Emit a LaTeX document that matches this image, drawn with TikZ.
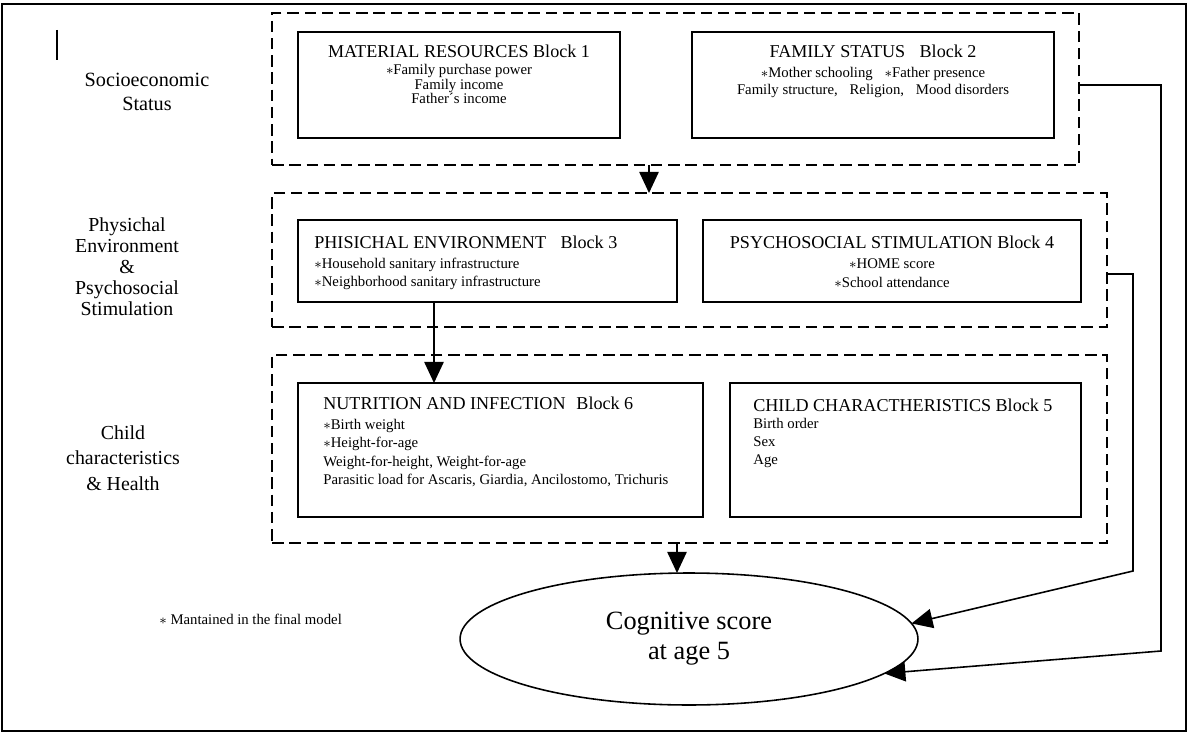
\documentclass[tikz,border=0pt]{standalone}
\usepackage{fontspec}
\setmainfont{Liberation Serif}
\usetikzlibrary{arrows.meta,shapes.geometric}
\newcommand{\mk}{$\ast$}
\begin{document}
\begin{tikzpicture}[x=0.02cm,y=-0.02cm,>={Triangle[length=12pt,width=11pt]},
  grp/.style={draw,dash pattern=on 6.5pt off 3.3pt,line width=1.1pt,inner sep=0,outer sep=0},
  blk/.style={draw,line width=1.2pt,inner sep=0,outer sep=0},
  ttl/.style={font=\fontsize{10.3}{12}\selectfont,inner sep=0},
  itm/.style={font=\fontsize{8.4}{#1}\selectfont,inner sep=0},
  lbl/.style={align=center,inner sep=0},
  con/.style={->,line width=0.9pt}]
  \useasboundingbox (0,0) rectangle (1189,733);
  \draw[line width=1.1pt] (2,4) rectangle (1186,731);
  \draw[line width=0.6pt] (57,30) -- (57,60);
  % left labels
  \node[lbl,font=\fontsize{11.5}{13.7}\selectfont] (soc) at (147,92) {Socioeconomic\\Status};
  \node[lbl,font=\fontsize{11.3}{12}\selectfont] (env) at (127,267) {Physichal\\Environment\\\&\\Psychosocial\\Stimulation};
  \node[lbl,font=\fontsize{11.3}{14.5}\selectfont] (chd) at (123,458) {Child\\characteristics\\\& Health};
  % groups and blocks
  \node[grp,minimum width=16.14cm,minimum height=3.04cm] (grp1) at (675.5,89) {};
  \node[blk,minimum width=6.44cm,minimum height=2.12cm] (b1) at (459,85) {};
  \node[blk,minimum width=7.24cm,minimum height=2.12cm] (b2) at (873,85) {};
  \node[grp,minimum width=16.7cm,minimum height=2.68cm] (grp2) at (689.5,260) {};
  \node[blk,minimum width=7.58cm,minimum height=1.64cm] (b3) at (487.5,261) {};
  \node[blk,minimum width=7.56cm,minimum height=1.64cm] (b4) at (892,261) {};
  \node[grp,minimum width=16.7cm,minimum height=3.76cm] (grp3) at (689.5,449) {};
  \node[blk,minimum width=8.1cm,minimum height=2.68cm] (b6) at (500.5,450) {};
  \node[blk,minimum width=7.02cm,minimum height=2.68cm] (b5) at (905.5,450) {};
  \node[draw,ellipse,line width=0.9pt,inner sep=0,outer sep=0,minimum width=9.16cm,minimum height=2.64cm,
    align=center,font=\fontsize{15}{17}\selectfont] (cog) at (689,639) {Cognitive score\\at age 5};
  % block texts
  \node[ttl] (t1) at (459,51) {MATERIAL RESOURCES Block 1};
  \node[itm=8.5,align=center] (i1) at (459,84) {\mk Family purchase power\\Family income\\Father´s income};
  \node[ttl] (t2) at (873,51) {FAMILY STATUS\hspace{0.8em}Block 2};
  \node[itm=9.7,align=center] (i2) at (873,82) {\mk Mother schooling\hspace{0.8em}\mk Father presence\\Family structure,\hspace{0.8em}Religion,\hspace{0.8em}Mood disorders};
  \node[ttl,anchor=west] (t3) at (314,242) {PHISICHAL ENVIRONMENT\hspace{0.8em}Block 3};
  \node[itm=10.2,align=left,anchor=west] (i3) at (314,274) {\mk Household sanitary infrastructure\\\mk Neighborhood sanitary infrastructure};
  \node[ttl] (t4) at (892,242) {PSYCHOSOCIAL STIMULATION Block 4};
  \node[itm=10.6,align=center] (i4) at (892,273) {\mk HOME score\\\mk School attendance};
  \node[ttl,anchor=west] (t6) at (323,403) {NUTRITION AND INFECTION\hspace{0.6em}Block 6};
  \node[itm=10.6,align=left,anchor=west] (i6) at (323,453) {\mk Birth weight\\\mk Height-for-age\\Weight-for-height, Weight-for-age\\Parasitic load for Ascaris, Giardia, Ancilostomo, Trichuris};
  \node[ttl,anchor=west] (t5) at (753,405) {CHILD CHARACTHERISTICS Block 5};
  \node[itm=10,align=left,anchor=west] (i5) at (753,443) {Birth order\\Sex\\Age};
  \node[itm=10,anchor=west] (fn) at (159,619) {\mk\ Mantained in the final model};
  % connectors
  \coordinate (a1) at (649,0);
  \coordinate (a2) at (434,0);
  \coordinate (a3) at (677,0);
  \coordinate (k1) at (1161,85);
  \coordinate (k2) at (1161,651);
  \coordinate (k3) at (1133,274);
  \coordinate (k4) at (1133,571);
  \draw[con] (grp1.south -| a1) -- (grp2.north -| a1);
  \draw[con] (b3.south -| a2) -- (b6.north -| a2);
  \draw[con] (grp3.south -| a3) -- (cog.north -| a3);
  \draw[con] (k1 -| grp1.east) -- (k1) -- (k2) -- (cog.-10);
  \draw[con] (k3 -| grp2.east) -- (k3) -- (k4) -- (cog.4);
\end{tikzpicture}
\end{document}
